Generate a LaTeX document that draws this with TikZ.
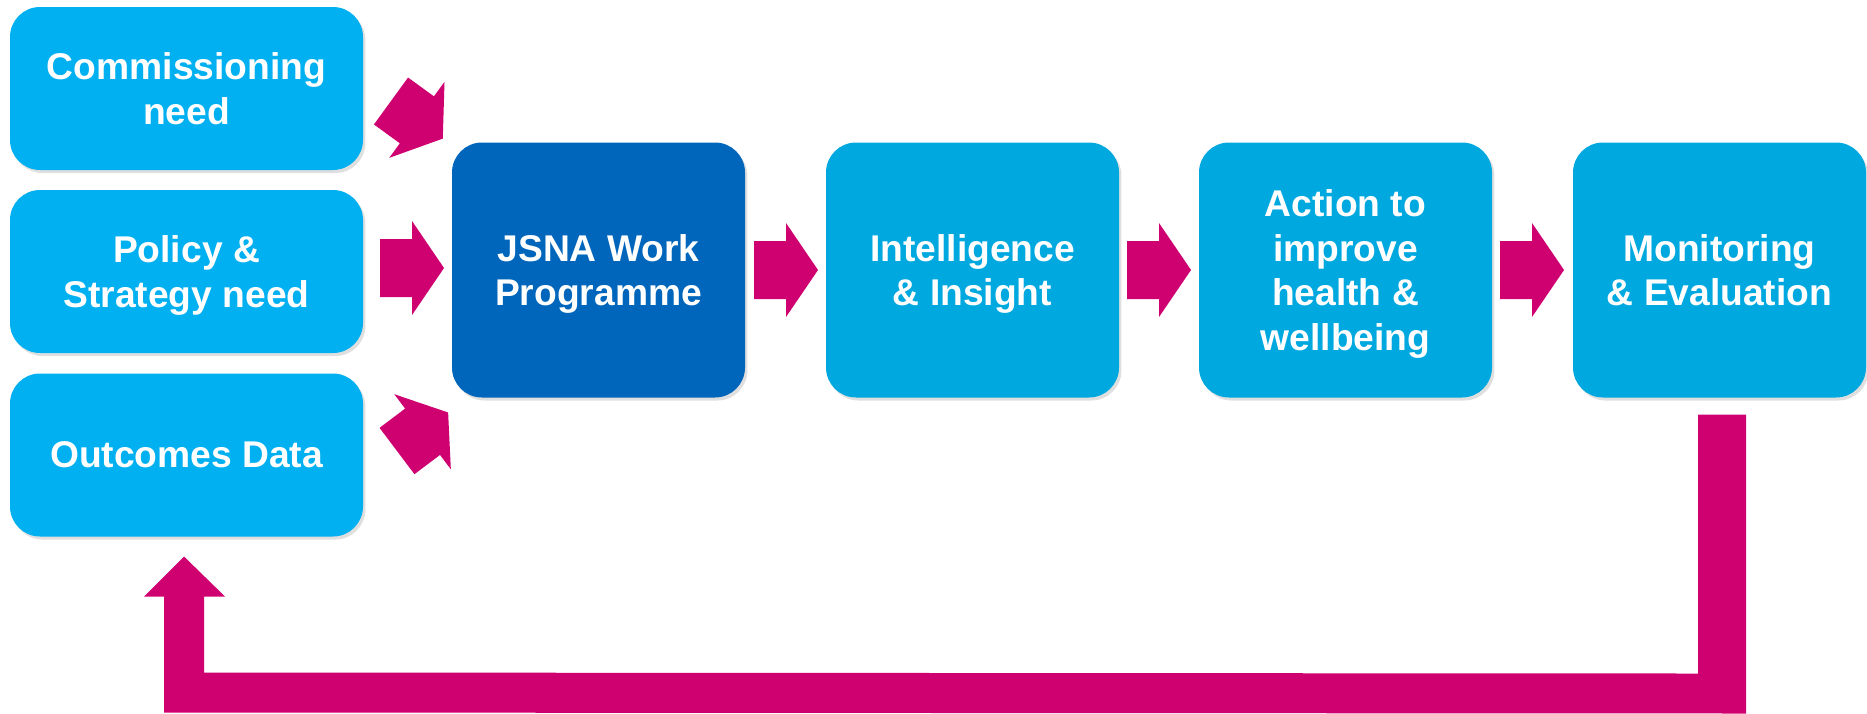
\documentclass[tikz,border=0pt]{standalone}
\usepackage{fontspec}
\setmainfont{Liberation Sans}
\usetikzlibrary{calc,shadows}
\definecolor{leftblue}{HTML}{00B0F0}
\definecolor{midblue}{HTML}{00A8E0}
\definecolor{darkblue}{HTML}{0066BB}
\definecolor{magentared}{HTML}{CF0070}
\begin{document}
\begin{tikzpicture}[x=0.5pt,y=-0.5pt,
 box/.style={rectangle, rounded corners=15pt, inner sep=0pt, outer sep=0pt, text=white,
   font=\fontsize{18.6}{22.3}\selectfont\bfseries, align=center, text depth=0pt,
   drop shadow={shadow xshift=1.2pt,shadow yshift=-1.5pt,opacity=0.25}},
 srcbox/.style={box, fill=leftblue, minimum width=176.5pt, minimum height=81.5pt},
 stagebox/.style={box, fill=midblue, minimum width=146.5pt, minimum height=127.5pt},
 blockarrow/.pic={\fill[magentared] (0,-29) -- (32,-29) -- (32,-47) -- (64,0) -- (32,47) -- (32,29) -- (0,29) -- cycle;}
]
\useasboundingbox (0,0) rectangle (1867,713);

\node[srcbox] (comm) at (186.5,88.5) {Commissioning\\need};
\node[srcbox] (policy) at (186.5,271.5) {Policy \&\\Strategy need};
\node[srcbox] (outc) at (186.5,455) {Outcomes Data};

\node[stagebox, fill=darkblue] (jsna) at (598.5,270) {JSNA Work\\Programme};
\node[stagebox] (intel) at (972.5,270) {Intelligence\\\& Insight};
\node[stagebox] (action) at (1345.5,270) {Action to\\improve\\health \&\\wellbeing};
\node[stagebox] (mon) at (1719.5,270) {Monitoring\\\& Evaluation};

% inputs into the work programme
\pic[rotate=-36] at ($(comm.east)+(28,12.5)$) {blockarrow};
\pic at ($(jsna.west)+(-72,-2)$) {blockarrow};
\pic[rotate=37] at ($(outc.east)+(34,-4)$) {blockarrow};

% stage to stage
\pic at ($(jsna.east)+(9,0)$) {blockarrow};
\pic at ($(intel.east)+(8,0)$) {blockarrow};
\pic at ($(action.east)+(8,0)$) {blockarrow};

% feedback loop
\coordinate (fbtop) at ($(mon.south)+(2.5,17)$);
\coordinate (fbtip) at ($(outc.south)+(-2.5,20)$);
\fill[magentared] ($(fbtop)+(-24,0)$) -- ($(fbtop)+(24,0)$) -- ($(fbtop)+(24,299)$)
  -- ($(fbtip)+(-20,156)$) -- ($(fbtip)+(-20,40)$) -- ($(fbtip)+(-40,40)$) -- (fbtip)
  -- ($(fbtip)+(41,40)$) -- ($(fbtip)+(20,40)$) -- ($(fbtip)+(20,116)$)
  -- ($(fbtop)+(-24,259)$) -- cycle;
\end{tikzpicture}
\end{document}
